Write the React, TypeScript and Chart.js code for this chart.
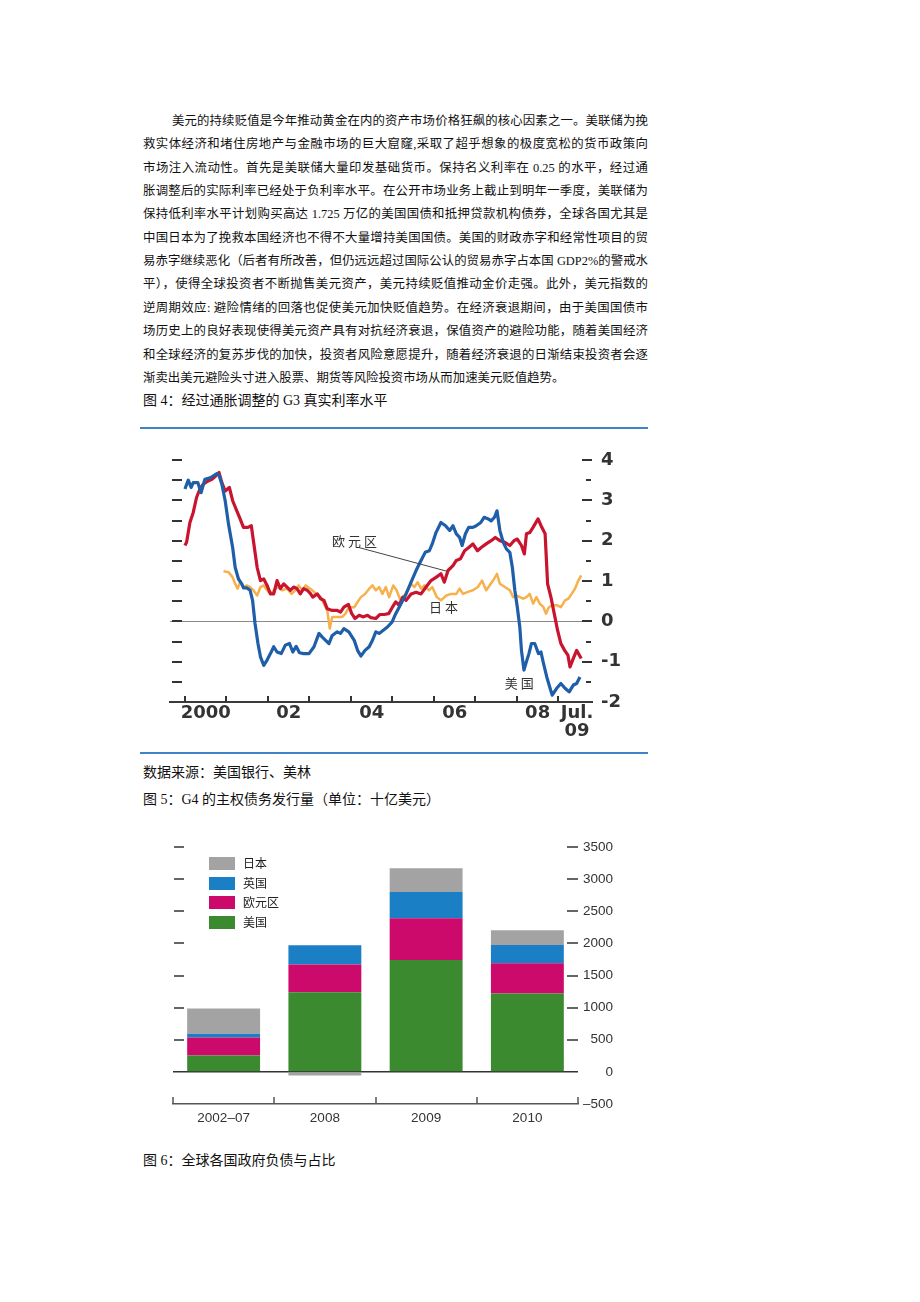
import React, { useEffect, useRef } from 'react';
import { Chart, registerables } from 'chart.js';

Chart.register(...registerables);

// ---------- page text ----------
const paragraphLines = [
  '美元的持续贬值是今年推动黄金在内的资产市场价格狂飙的核心因素之一。美联储为挽',
  '救实体经济和堵住房地产与金融市场的巨大窟窿,采取了超乎想象的极度宽松的货币政策向',
  '市场注入流动性。首先是美联储大量印发基础货币。保持名义利率在 0.25 的水平，经过通',
  '胀调整后的实际利率已经处于负利率水平。在公开市场业务上截止到明年一季度，美联储为',
  '保持低利率水平计划购买高达 1.725 万亿的美国国债和抵押贷款机构债券，全球各国尤其是',
  '中国日本为了挽救本国经济也不得不大量增持美国国债。美国的财政赤字和经常性项目的贸',
  '易赤字继续恶化（后者有所改善，但仍远远超过国际公认的贸易赤字占本国 GDP2%的警戒水',
  '平），使得全球投资者不断抛售美元资产，美元持续贬值推动金价走强。此外，美元指数的',
  '逆周期效应: 避险情绪的回落也促使美元加快贬值趋势。在经济衰退期间，由于美国国债市',
  '场历史上的良好表现使得美元资产具有对抗经济衰退，保值资产的避险功能，随着美国经济',
  '和全球经济的复苏步伐的加快，投资者风险意愿提升，随着经济衰退的日渐结束投资者会逐',
  '渐卖出美元避险头寸进入股票、期货等风险投资市场从而加速美元贬值趋势。',
];
const caption4 = '图 4：经过通胀调整的 G3 真实利率水平';
const sourceNote = '数据来源：美国银行、美林';
const caption5 = '图 5：G4 的主权债务发行量（单位：十亿美元）';
const caption6 = '图 6：全球各国政府负债与占比';

// ---------- figure 4: real interest rates (%) ----------
const usDates = [
  2000.00, 2000.08, 2000.15, 2000.20, 2000.31, 2000.39, 2000.48, 2000.61, 2000.77, 2000.82,
  2000.89, 2000.97, 2001.05, 2001.15, 2001.21, 2001.29, 2001.37, 2001.41, 2001.49, 2001.57,
  2001.63, 2001.69, 2001.76, 2001.82, 2001.90, 2001.98, 2002.06, 2002.14, 2002.22, 2002.32,
  2002.42, 2002.52, 2002.60, 2002.68, 2002.76, 2002.86, 2002.99, 2003.11, 2003.23, 2003.31,
  2003.39, 2003.47, 2003.55, 2003.67, 2003.75, 2003.83, 2003.95, 2004.08, 2004.16, 2004.24,
  2004.34, 2004.44, 2004.52, 2004.60, 2004.68, 2004.78, 2004.88, 2004.99, 2005.08, 2005.21,
  2005.33, 2005.45, 2005.57, 2005.69, 2005.79, 2005.89, 2005.96, 2006.05, 2006.17, 2006.28,
  2006.38, 2006.46, 2006.54, 2006.62, 2006.68, 2006.76, 2006.84, 2006.94, 2007.02, 2007.13,
  2007.21, 2007.31, 2007.38, 2007.46, 2007.52, 2007.59, 2007.67, 2007.75, 2007.83, 2007.89,
  2007.95, 2008.01, 2008.07, 2008.11, 2008.17, 2008.23, 2008.29, 2008.35, 2008.43, 2008.52,
  2008.58, 2008.64, 2008.72, 2008.80, 2008.85, 2008.96, 2009.06, 2009.16, 2009.26, 2009.36,
  2009.44, 2009.52,
];
const usRates = [
  3.28, 3.50, 3.32, 3.44, 3.44, 3.19, 3.52, 3.56, 3.66, 3.63,
  3.40, 2.99, 2.41, 1.83, 1.34, 1.05, 0.93, 0.83, 0.83, 0.77,
  0.52, -0.06, -0.55, -0.88, -1.09, -0.96, -0.80, -0.63, -0.76, -0.80,
  -0.59, -0.55, -0.76, -0.62, -0.78, -0.80, -0.80, -0.63, -0.30, -0.39,
  -0.47, -0.55, -0.35, -0.26, -0.30, -0.18, -0.26, -0.47, -0.72, -0.86,
  -0.72, -0.63, -0.47, -0.26, -0.30, -0.22, -0.14, -0.02, 0.19, 0.44,
  0.68, 0.97, 1.26, 1.51, 1.71, 1.75, 1.92, 2.20, 2.45, 2.37,
  2.25, 2.37, 2.17, 2.08, 1.88, 2.17, 2.33, 2.33, 2.37, 2.45,
  2.58, 2.54, 2.49, 2.58, 2.74, 2.25, 1.96, 1.79, 1.71, 1.34,
  0.77, 0.35, -0.14, -0.72, -1.21, -1.00, -0.80, -0.55, -0.55, -0.80,
  -0.76, -1.04, -1.38, -1.66, -1.83, -1.66, -1.54, -1.66, -1.75, -1.58,
  -1.54, -1.38,
];

const euroDates = [
  2000.00, 2000.04, 2000.12, 2000.20, 2000.28, 2000.36, 2000.44, 2000.56, 2000.65, 2000.74,
  2000.82, 2000.89, 2000.97, 2001.07, 2001.15, 2001.25, 2001.33, 2001.41, 2001.52, 2001.60,
  2001.65, 2001.74, 2001.82, 2001.90, 2001.98, 2002.06, 2002.14, 2002.22, 2002.30, 2002.38,
  2002.46, 2002.54, 2002.62, 2002.70, 2002.78, 2002.86, 2002.95, 2003.03, 2003.08, 2003.19,
  2003.27, 2003.35, 2003.43, 2003.55, 2003.67, 2003.75, 2003.83, 2003.94, 2004.02, 2004.10,
  2004.20, 2004.29, 2004.40, 2004.48, 2004.60, 2004.70, 2004.80, 2004.91, 2005.00, 2005.08,
  2005.16, 2005.25, 2005.33, 2005.45, 2005.57, 2005.69, 2005.81, 2005.93, 2006.05, 2006.17,
  2006.25, 2006.34, 2006.46, 2006.54, 2006.64, 2006.74, 2006.84, 2006.94, 2007.05, 2007.14,
  2007.26, 2007.38, 2007.48, 2007.59, 2007.71, 2007.83, 2007.93, 2008.01, 2008.11, 2008.18,
  2008.23, 2008.31, 2008.39, 2008.51, 2008.60, 2008.68, 2008.74, 2008.82, 2008.90, 2008.98,
  2009.06, 2009.15, 2009.23, 2009.28, 2009.36, 2009.44, 2009.55,
];
const euroRates = [
  1.88, 1.96, 2.45, 2.70, 3.07, 3.28, 3.40, 3.48, 3.52, 3.60,
  3.69, 3.44, 3.23, 3.32, 2.99, 2.74, 2.54, 2.33, 2.33, 2.37,
  2.00, 1.34, 1.01, 1.05, 0.89, 0.68, 0.68, 1.01, 0.81, 0.93,
  0.85, 0.77, 0.85, 0.81, 0.68, 0.81, 0.77, 0.68, 0.60, 0.68,
  0.56, 0.52, 0.31, 0.27, 0.27, 0.23, 0.35, 0.42, 0.19, 0.07,
  0.15, 0.11, 0.15, 0.09, 0.07, 0.17, 0.17, 0.19, 0.35, 0.48,
  0.40, 0.60, 0.52, 0.68, 0.72, 0.68, 0.85, 1.01, 1.09, 1.18,
  0.97, 1.26, 1.38, 1.51, 1.55, 1.75, 1.83, 1.92, 1.75, 1.83,
  1.92, 2.00, 2.08, 2.00, 1.96, 1.88, 2.00, 2.04, 1.88, 1.67,
  2.17, 2.20, 2.33, 2.54, 2.33, 2.17, 0.93, 0.60, 0.19, -0.22,
  -0.55, -0.72, -0.84, -1.13, -0.92, -0.72, -0.92,
];

const japanDates = [
  2000.93, 2001.05, 2001.15, 2001.21, 2001.27, 2001.33, 2001.41, 2001.49, 2001.57, 2001.65,
  2001.74, 2001.82, 2001.90, 2001.98, 2002.06, 2002.18, 2002.26, 2002.34, 2002.46, 2002.57,
  2002.66, 2002.74, 2002.83, 2002.91, 2003.03, 2003.11, 2003.15, 2003.27, 2003.35, 2003.43,
  2003.49, 2003.55, 2003.67, 2003.79, 2003.87, 2003.95, 2004.08, 2004.16, 2004.24, 2004.34,
  2004.44, 2004.52, 2004.60, 2004.68, 2004.76, 2004.84, 2004.92, 2005.02, 2005.10, 2005.18,
  2005.26, 2005.37, 2005.45, 2005.53, 2005.61, 2005.69, 2005.77, 2005.88, 2005.96, 2006.07,
  2006.17, 2006.30, 2006.42, 2006.54, 2006.62, 2006.70, 2006.82, 2006.94, 2007.06, 2007.16,
  2007.26, 2007.37, 2007.45, 2007.52, 2007.59, 2007.71, 2007.83, 2007.91, 2007.99, 2008.07,
  2008.15, 2008.23, 2008.31, 2008.39, 2008.47, 2008.55, 2008.64, 2008.70, 2008.77, 2008.85,
  2008.96, 2009.06, 2009.16, 2009.24, 2009.32, 2009.40, 2009.48, 2009.55,
];
const japanRates = [
  1.24, 1.22, 1.09, 0.93, 0.81, 0.97, 0.85, 0.89, 0.85, 0.77,
  0.64, 0.85, 0.89, 0.77, 0.68, 0.81, 0.85, 0.77, 0.81, 0.68,
  0.77, 0.89, 0.77, 0.89, 0.80, 0.73, 0.68, 0.60, 0.44, 0.27,
  -0.18, 0.11, 0.11, 0.11, 0.19, 0.35, 0.35, 0.48, 0.60, 0.68,
  0.81, 0.89, 0.77, 0.85, 0.68, 0.85, 0.60, 0.89, 0.77, 0.56,
  0.60, 0.77, 0.93, 0.85, 0.97, 0.81, 0.89, 0.77, 0.85, 0.60,
  0.52, 0.64, 0.68, 0.68, 0.81, 0.68, 0.73, 0.77, 0.85, 1.01,
  0.77, 0.93, 1.05, 1.18, 0.93, 0.85, 0.77, 0.60, 0.64, 0.60,
  0.56, 0.60, 0.68, 0.44, 0.60, 0.44, 0.35, 0.19, 0.35, 0.40,
  0.40, 0.35, 0.52, 0.56, 0.68, 0.81, 1.01, 1.14,
];

const yearTicks = [2000, 2001, 2002, 2003, 2004, 2005, 2006, 2007, 2008, 2009];
const yearLabelPositions = [2000.5, 2002.5, 2004.5, 2006.5, 2008.5, 2009.45];
const yearLabels: (string | string[])[] = ['2000', '02', '04', '06', '08', ['Jul.', '09']];
const rateDashTicks = [-1.5, -1, -0.5, 0, 0.5, 1, 1.5, 2, 2.5, 3, 3.5, 4];
const lineSeriesNames = ['美国', '欧元区', '日本'];
const lineSeriesColors = ['#1f5ea8', '#c8142f', '#f6b04c'];
const lineAnnotations = [
  { text: '欧元区', x: 2004.12, y: 1.98 },
  { text: '日本', x: 2006.27, y: 0.35 },
  { text: '美国', x: 2008.09, y: -1.54 },
];
const euroLeader = { x1: 2004.19, y1: 1.83, x2: 2006.32, y2: 1.24 };

// ---------- figure 5: sovereign issuance (USD bn) ----------
const periods = ['2002–07', '2008', '2009', '2010'];
const usIssuance = [255, 1240, 1740, 1220];
const euroIssuance = [280, 430, 650, 470];
const ukIssuance = [60, 300, 410, 285];
const japanIssuance = [390, -55, 370, 230];
const issuanceNames = ['美国', '欧元区', '英国', '日本'];
const issuanceColors = ['#3b8a30', '#cc0a6c', '#1b7fc6', '#a3a3a3'];
const issuanceDashTicks = [500, 1000, 1500, 2000, 2500, 3000, 3500];

const cjk = '"Noto Sans CJK SC", "Noto Sans", sans-serif';
const bodyFont = '"Liberation Serif", "Noto Sans CJK SC", serif';

const toPoints = (xs: number[], ys: number[]) => xs.map((x, i) => ({ x, y: ys[i] }));

const lineMarks = {
  id: 'lineMarks',
  beforeDatasetsDraw(chart: any) {
    const { ctx, chartArea, scales } = chart;
    const x = scales.x;
    const y = scales.y;
    ctx.save();
    ctx.strokeStyle = '#333';
    ctx.lineWidth = 2;
    yearTicks.forEach((v) => {
      const px = Math.round(x.getPixelForValue(v));
      ctx.beginPath();
      ctx.moveTo(px, chartArea.bottom - 6);
      ctx.lineTo(px, chartArea.bottom);
      ctx.stroke();
    });
    rateDashTicks.forEach((v) => {
      const py = Math.round(y.getPixelForValue(v));
      ctx.beginPath();
      ctx.moveTo(chartArea.left + 2, py);
      ctx.lineTo(chartArea.left + 12, py);
      ctx.stroke();
      const major = Number.isInteger(v);
      ctx.beginPath();
      ctx.moveTo(chartArea.right - (major ? 10 : 6), py);
      ctx.lineTo(chartArea.right - (major ? 0 : 1), py);
      ctx.stroke();
    });
    ctx.restore();
  },
  afterDatasetsDraw(chart: any) {
    const { ctx, scales } = chart;
    const x = scales.x;
    const y = scales.y;
    ctx.save();
    ctx.strokeStyle = '#444';
    ctx.lineWidth = 1;
    ctx.beginPath();
    ctx.moveTo(x.getPixelForValue(euroLeader.x1), y.getPixelForValue(euroLeader.y1));
    ctx.lineTo(x.getPixelForValue(euroLeader.x2), y.getPixelForValue(euroLeader.y2));
    ctx.stroke();
    ctx.fillStyle = '#333';
    ctx.font = `13px ${cjk}`;
    (ctx as any).letterSpacing = '3px';
    ctx.textAlign = 'center';
    ctx.textBaseline = 'middle';
    lineAnnotations.forEach((a) => {
      ctx.fillText(a.text, x.getPixelForValue(a.x), y.getPixelForValue(a.y));
    });
    ctx.restore();
  },
};

const barMarks = {
  id: 'barMarks',
  afterDatasetsDraw(chart: any) {
    const { ctx, chartArea, scales } = chart;
    const y = scales.y;
    ctx.save();
    ctx.strokeStyle = '#333';
    ctx.lineWidth = 1.5;
    issuanceDashTicks.forEach((v) => {
      const py = Math.round(y.getPixelForValue(v));
      ctx.beginPath();
      ctx.moveTo(chartArea.left + 1, py);
      ctx.lineTo(chartArea.left + 11, py);
      ctx.moveTo(chartArea.right - 11, py);
      ctx.lineTo(chartArea.right, py);
      ctx.stroke();
    });
    ctx.strokeStyle = '#555';
    const w = (chartArea.right - chartArea.left) / periods.length;
    for (let k = 0; k <= periods.length; k++) {
      const px = Math.round(chartArea.left + k * w);
      ctx.beginPath();
      ctx.moveTo(px, chartArea.bottom - 7);
      ctx.lineTo(px, chartArea.bottom);
      ctx.stroke();
    }
    ctx.restore();
  },
};

const abs = (left: number, top: number, extra: any = {}) => ({ position: 'absolute' as const, left, top, ...extra });

export default function App() {
  const lineRef = useRef<HTMLCanvasElement>(null);
  const barRef = useRef<HTMLCanvasElement>(null);

  useEffect(() => {
    const lineSets = [
      toPoints(usDates, usRates),
      toPoints(euroDates, euroRates),
      toPoints(japanDates, japanRates),
    ];
    const lineChart = new Chart(lineRef.current as HTMLCanvasElement, {
      type: 'line',
      data: {
        datasets: lineSets.map((d, i) => ({
          label: lineSeriesNames[i],
          data: d,
          borderColor: lineSeriesColors[i],
          borderWidth: i === 2 ? 2.5 : 3.2,
          borderJoinStyle: 'round',
          pointRadius: 0,
          fill: false,
          tension: 0,
        })),
      },
      options: {
        animation: false,
        responsive: false,
        devicePixelRatio: 1,
        layout: { padding: { left: 30, top: 20, right: 0, bottom: 0 } },
        plugins: { legend: { display: false }, tooltip: { enabled: false } },
        scales: {
          x: {
            type: 'linear',
            min: 1999.64,
            max: 2009.81,
            afterBuildTicks: (s: any) => {
              s.ticks = yearLabelPositions.map((v) => ({ value: v }));
            },
            afterFit: (s: any) => {
              s.height = 43;
            },
            ticks: {
              autoSkip: false,
              maxRotation: 0,
              padding: 2,
              color: '#333',
              font: { family: 'DejaVu Sans', size: 18, weight: 'bold', lineHeight: 1 },
              callback: (_v: any, i: number) => yearLabels[i],
            },
            grid: { display: false, drawTicks: false },
            border: { display: true, color: '#3a3a3a', width: 2 },
          },
          y: {
            position: 'right',
            min: -2,
            max: 4,
            afterFit: (s: any) => {
              s.width = 58;
            },
            ticks: {
              stepSize: 1,
              padding: 9,
              color: '#333',
              font: { family: 'DejaVu Sans', size: 18, weight: 'bold' },
              callback: (v: any) => String(v),
            },
            grid: {
              drawTicks: false,
              lineWidth: 1,
              color: (c: any) => (c.tick && c.tick.value === 0 ? '#8a8a8a' : 'rgba(0,0,0,0)'),
            },
            border: { display: false },
          },
        },
      } as any,
      plugins: [lineMarks],
    });

    const barSeries = [usIssuance, euroIssuance, ukIssuance, japanIssuance];
    const barChart = new Chart(barRef.current as HTMLCanvasElement, {
      type: 'bar',
      data: {
        labels: periods,
        datasets: barSeries.map((d, i) => ({
          label: issuanceNames[i],
          data: d,
          backgroundColor: issuanceColors[i],
          borderWidth: 0,
          categoryPercentage: 1,
          barPercentage: 0.72,
        })),
      },
      options: {
        animation: false,
        responsive: false,
        devicePixelRatio: 1,
        layout: { padding: { left: 23, top: 17, right: 7, bottom: 0 } },
        plugins: { legend: { display: false }, tooltip: { enabled: false } },
        scales: {
          x: {
            stacked: true,
            afterFit: (s: any) => {
              s.height = 26;
            },
            ticks: {
              padding: 6,
              color: '#333',
              font: { family: 'Liberation Sans', size: 13.5 },
            },
            grid: { display: false, drawTicks: false },
            border: { display: true, color: '#555', width: 1.5 },
          },
          y: {
            stacked: true,
            position: 'right',
            min: -500,
            max: 3500,
            afterFit: (s: any) => {
              s.width = 35;
            },
            ticks: {
              stepSize: 500,
              padding: 5,
              crossAlign: 'far',
              color: '#333',
              font: { family: 'Liberation Sans', size: 13.5 },
              callback: (v: any) => (v < 0 ? '–' + Math.abs(v) : String(v)),
            },
            grid: {
              drawTicks: false,
              lineWidth: 1.5,
              color: (c: any) => (c.tick && c.tick.value === 0 ? '#333' : 'rgba(0,0,0,0)'),
            },
            border: { display: false },
          },
        },
      } as any,
      plugins: [barMarks],
    });

    return () => {
      lineChart.destroy();
      barChart.destroy();
    };
  }, []);

  const legendOrder = [3, 2, 1, 0];
  const legendRows = [863, 883, 902, 922];
  const captionStyle = { fontSize: 14, lineHeight: '20px', whiteSpace: 'nowrap', fontFamily: bodyFont };

  return (
    <div
      style={{
        position: 'absolute',
        left: 0,
        top: 0,
        width: 920,
        height: 1302,
        background: '#fff',
        fontFamily: cjk,
        color: '#111',
        overflow: 'hidden',
      }}
    >
      {paragraphLines.map((t, i) => {
        const last = i === paragraphLines.length - 1;
        const left = i === 0 ? 172 : 143;
        return (
          <div
            key={i}
            style={abs(left, 121 + i * 23.35 - 10, {
              width: 648 - left,
              fontSize: 12.4,
              fontFamily: bodyFont,
              lineHeight: '20px',
              height: 20,
              textAlign: last ? 'left' : 'justify',
              textAlignLast: last ? 'left' : 'justify',
              whiteSpace: 'nowrap',
            })}
          >
            {t}
          </div>
        );
      })}
      <div style={abs(143, 391, captionStyle)}>{caption4}</div>
      <div style={abs(140, 427, { width: 508, height: 2, background: '#3f83c6' })} />
      <canvas ref={lineRef} width={510} height={305} style={abs(140, 440, { width: 510, height: 305 })} />
      <div style={abs(140, 752, { width: 508, height: 2, background: '#3f83c6' })} />
      <div style={abs(143, 763, captionStyle)}>{sourceNote}</div>
      <div style={abs(143, 790, captionStyle)}>{caption5}</div>
      <canvas ref={barRef} width={470} height={300} style={abs(150, 830, { width: 470, height: 300 })} />
      {legendOrder.map((si, r) => (
        <React.Fragment key={si}>
          <div style={abs(209, legendRows[r] - 6.5, { width: 26, height: 13, background: issuanceColors[si] })} />
          <div style={abs(243, legendRows[r] - 9, { fontSize: 12, lineHeight: '18px', color: '#222', whiteSpace: 'nowrap' })}>
            {issuanceNames[si]}
          </div>
        </React.Fragment>
      ))}
      <div style={abs(143, 1151, captionStyle)}>{caption6}</div>
    </div>
  );
}
